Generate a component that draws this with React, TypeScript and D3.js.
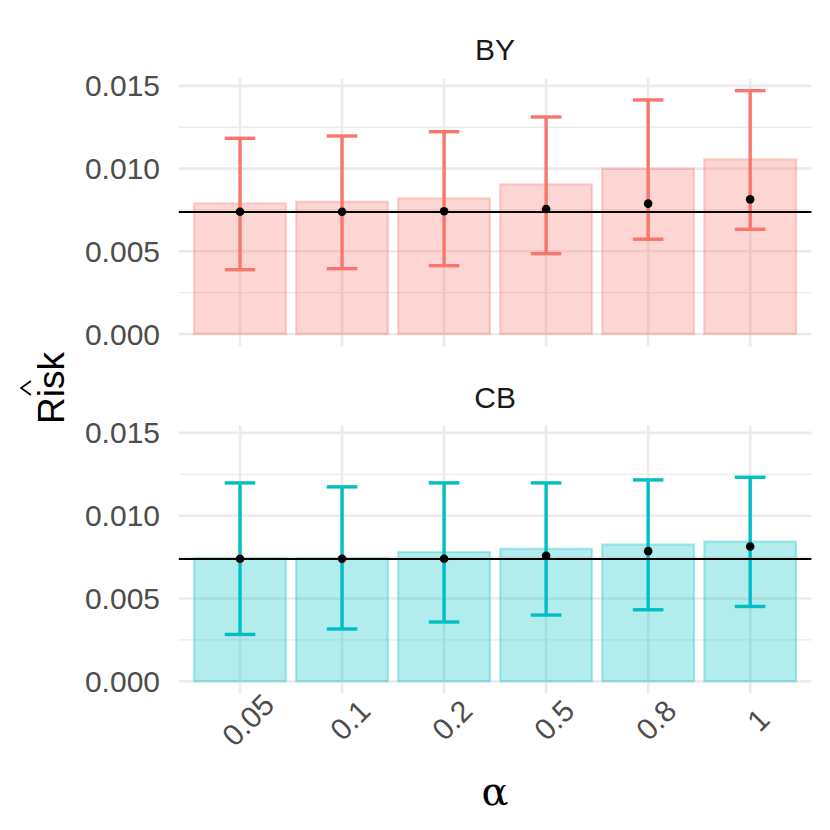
import * as d3 from "d3";

const alphaLabels = ["0.05", "0.1", "0.2", "0.5", "0.8", "1"];

const byBar = [0.0079, 0.008, 0.0082, 0.00905, 0.01, 0.01056];
const byPoint = [0.00739, 0.00739, 0.00742, 0.00756, 0.00788, 0.00814];
const byUpper = [0.01183, 0.01197, 0.01223, 0.01312, 0.01415, 0.01471];
const byLower = [0.00389, 0.00395, 0.00413, 0.00486, 0.00573, 0.00633];

const cbBar = [0.00744, 0.00744, 0.0078, 0.008, 0.00826, 0.00844];
const cbPoint = [0.0074, 0.0074, 0.0074, 0.00758, 0.00786, 0.00814];
const cbUpper = [0.01198, 0.01174, 0.01198, 0.01198, 0.01216, 0.01232];
const cbLower = [0.00283, 0.00316, 0.00358, 0.004, 0.00432, 0.00452];

const refRisk = 0.00738;
const yTicks = [0, 0.005, 0.01, 0.015];
const yMinor = [0.0025, 0.0075, 0.0125];

const W = 830;
const H = 830;
const FONT = "'Liberation Sans', Arial, Helvetica, sans-serif";

const facets = [
  { name: "BY", color: "#F8766D", bar: byBar, point: byPoint, upper: byUpper, lower: byLower, top: 78.5, bottom: 346.2, stripY: 49 },
  { name: "CB", color: "#00BFC4", bar: cbBar, point: cbPoint, upper: cbUpper, lower: cbLower, top: 425.5, bottom: 693.5, stripY: 397 },
];

// shared y domain, ggplot style 5% expansion
const yMax = d3.max([...byUpper, ...cbUpper]) as number;
const pad = yMax * 0.05;

const x = d3
  .scaleBand<string>()
  .domain(alphaLabels)
  .range([178.8, 811.4])
  .paddingInner(0)
  .paddingOuter(0.1);

function Panel({ f }: { f: (typeof facets)[number] }) {
  const y = d3.scaleLinear().domain([-pad, yMax + pad]).range([f.bottom, f.top]);
  const step = x.step();
  const barW = step * 0.9;
  const capW = step * 0.3;
  const cx = (c: string) => (x(c) as number) + x.bandwidth() / 2;
  const [x0, x1] = x.range();

  return (
    <g>
      {yMinor.map((t) => (
        <line key={"m" + t} x1={x0} x2={x1} y1={y(t)} y2={y(t)} stroke="#EBEBEB" strokeWidth={1.3} />
      ))}
      {yTicks.map((t) => (
        <line key={"M" + t} x1={x0} x2={x1} y1={y(t)} y2={y(t)} stroke="#EBEBEB" strokeWidth={2.6} />
      ))}
      {alphaLabels.map((c) => (
        <line key={"v" + c} x1={cx(c)} x2={cx(c)} y1={f.top} y2={f.bottom} stroke="#EBEBEB" strokeWidth={2.6} />
      ))}
      {yTicks.map((t) => (
        <text
          key={"t" + t}
          x={160}
          y={y(t)}
          textAnchor="end"
          dominantBaseline="central"
          fontSize={30}
          fill="#4D4D4D"
          fontFamily={FONT}
        >
          {d3.format(".3f")(t)}
        </text>
      ))}
      <text x={(x0 + x1) / 2} y={f.stripY} textAnchor="middle" dominantBaseline="central" fontSize={30} fill="#1A1A1A" fontFamily={FONT}>
        {f.name}
      </text>
      {alphaLabels.map((c, i) => (
        <rect
          key={"b" + c}
          x={cx(c) - barW / 2}
          y={y(f.bar[i])}
          width={barW}
          height={y(0) - y(f.bar[i])}
          fill={f.color}
          fillOpacity={0.3}
          stroke={f.color}
          strokeOpacity={0.3}
          strokeWidth={2.2}
        />
      ))}
      {alphaLabels.map((c, i) => (
        <g key={"e" + c} stroke={f.color} strokeWidth={3.4}>
          <line x1={cx(c)} x2={cx(c)} y1={y(f.upper[i])} y2={y(f.lower[i])} />
          <line x1={cx(c) - capW / 2} x2={cx(c) + capW / 2} y1={y(f.upper[i])} y2={y(f.upper[i])} />
          <line x1={cx(c) - capW / 2} x2={cx(c) + capW / 2} y1={y(f.lower[i])} y2={y(f.lower[i])} />
        </g>
      ))}
      <line x1={x0} x2={x1} y1={y(refRisk)} y2={y(refRisk)} stroke="#000" strokeWidth={2} />
      {alphaLabels.map((c, i) => (
        <circle key={"p" + c} cx={cx(c)} cy={y(f.point[i])} r={4.3} fill="#000" />
      ))}
    </g>
  );
}

export default function App() {
  return (
    <svg width={W} height={H} style={{ position: "absolute", left: 0, top: 0, background: "#fff" }}>
      {facets.map((f) => (
        <Panel key={f.name} f={f} />
      ))}
      {alphaLabels.map((c) => {
        const tx = (x(c) as number) + x.bandwidth() / 2 + 8;
        const ty = 720;
        return (
          <text
            key={"x" + c}
            x={tx}
            y={ty}
            transform={`rotate(-45, ${tx}, ${ty})`}
            textAnchor="middle"
            dominantBaseline="central"
            fontSize={30}
            fill="#4D4D4D"
            fontFamily={FONT}
          >
            {c}
          </text>
        );
      })}
      <text x={495} y={791} textAnchor="middle" dominantBaseline="central" fontSize={40} fill="#000" fontFamily="'DejaVu Serif', 'Liberation Serif', serif">
        α
      </text>
      <g transform="translate(51, 388) rotate(-90)">
        <text x={0} y={0} textAnchor="middle" dominantBaseline="central" fontSize={37} fill="#000" fontFamily={FONT}>
          Risk
        </text>
        <path d="M -7,-20 L 0,-30 L 7,-20" fill="none" stroke="#000" strokeWidth={1.6} />
      </g>
    </svg>
  );
}
